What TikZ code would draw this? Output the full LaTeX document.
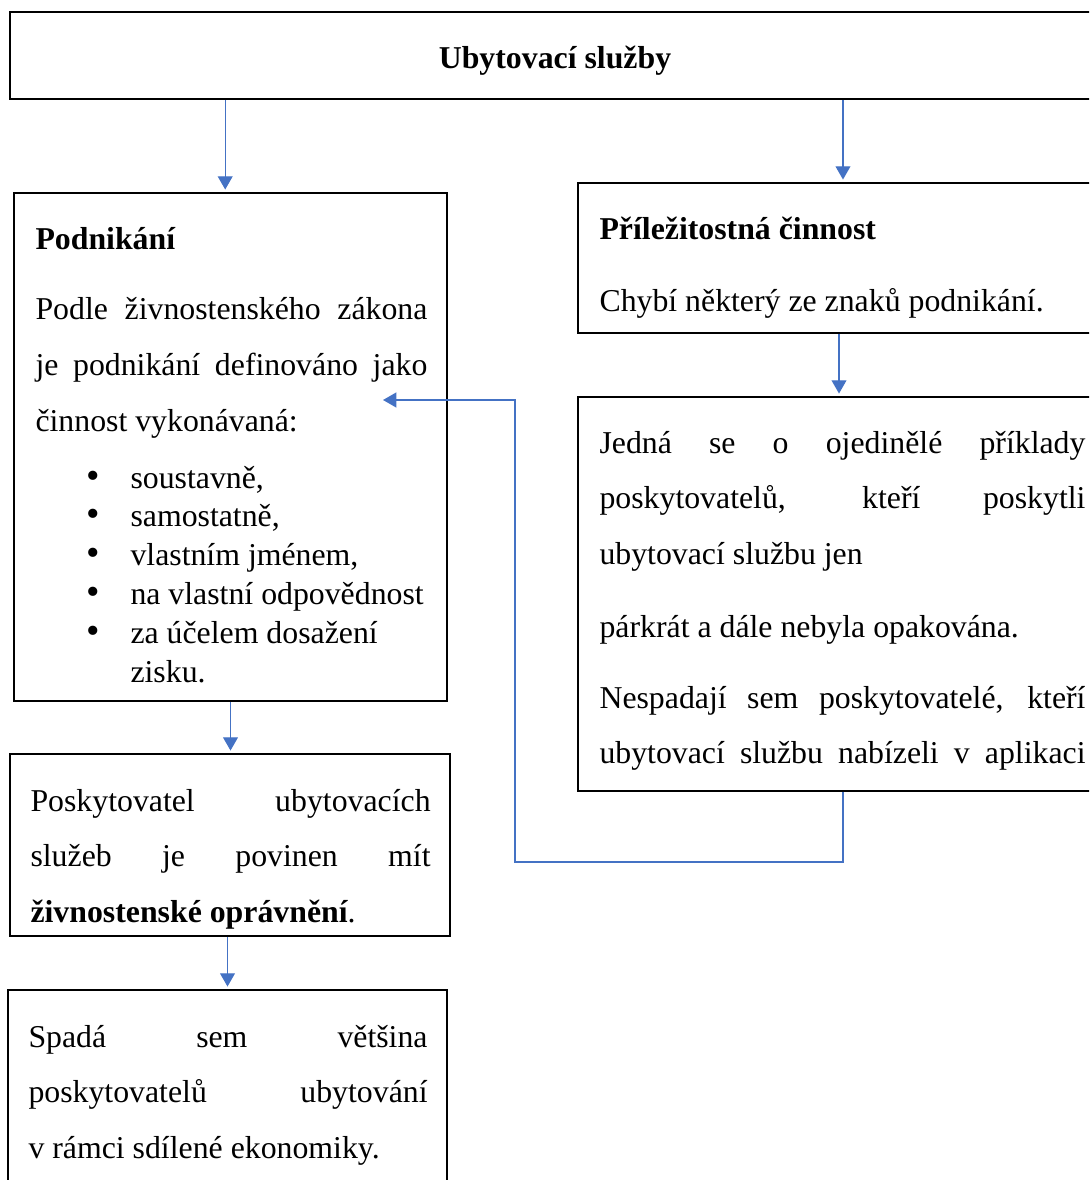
\documentclass[tikz,border=0pt]{standalone}
\usepackage{fontspec}
\setmainfont{Liberation Serif}
\usetikzlibrary{arrows.meta,positioning,fit}
\definecolor{linkblue}{HTML}{4472C4}
\newcommand{\fullline}[1]{{\spaceskip=0pt\xspaceskip=0pt\makebox[\hsize][s]{#1}}}
\newcommand{\bitem}{\leavevmode\llap{{\fontsize{14.5}{14.65}\selectfont\textbullet}\hspace{11.5pt}}}

\begin{document}
\begin{tikzpicture}[
  x=0.3774pt, y=-0.3774pt,
  box/.style={draw, line width=0.6pt, inner sep=0pt},
  txt/.style={anchor=base west, inner sep=0pt, align=left,
              font=\fontsize{12}{21}\selectfont,
              execute at begin node={\spaceskip=0pt\xspaceskip=0pt}},
  head/.style={anchor=base west, inner sep=0pt,
               font=\fontsize{12}{21}\selectfont\bfseries},
  list/.style={anchor=base west, inner sep=0pt, align=left,
               font=\fontsize{12}{14.65}\selectfont,
               execute at begin node={\spaceskip=0pt\xspaceskip=0pt}},
  conn/.style={draw=linkblue, line width=0.5pt,
               -{Triangle[length=5pt, width=5.6pt]}, shorten >=1pt}
]
  \useasboundingbox (0,0) rectangle (1089,1180);
  \clip (0,0) rectangle (1089,1180);

  % boxes
  \node[box, fit={(10,12) (1100,99)}]    (top)     {};
  \node[box, fit={(14,193) (447,701)}]   (pod)     {};
  \node[box, fit={(10,754) (450,936)}]   (povinen) {};
  \node[box, fit={(8,990) (447,1200)}]   (spada)   {};
  \node[box, fit={(578,183) (1100,333)}] (pril)    {};
  \node[box, fit={(578,397) (1100,791)}] (jedna)   {};

  % texts
  \node[head, anchor=base] (title) at (555,69) {Ubytovací služby};

  \node[head] (podhead) at (35,250) {Podnikání};
  \node[txt, text width=147.9pt] (podtext) at (35,320)
    {\fullline{Podle živnostenského zákona}\\
     \fullline{je podnikání definováno jako}\\
     činnost vykonávaná:};
  \node[list, text width=120pt] (podlist) at (130,488)
    {\bitem soustavně,\\
     \bitem samostatně,\\
     \bitem vlastním jménem,\\
     \bitem na vlastní odpovědnost\\
     \bitem za účelem dosažení\\
     zisku.};

  \node[txt, text width=151pt] (povtext) at (30,811)
    {\fullline{Poskytovatel ubytovacích}\\
     \fullline{služeb je povinen mít}\\
     \textbf{živnostenské oprávnění}.};

  \node[txt, text width=150.6pt] (spadatext) at (28,1047)
    {\fullline{Spadá sem většina}\\
     \fullline{poskytovatelů ubytování}\\
     v rámci sdílené ekonomiky.};

  \node[head] (prilhead) at (599,240) {Příležitostná činnost};
  \node[txt] (priltext) at (599,312) {Chybí některý ze znaků podnikání.};

  \node[txt, text width=183.4pt] (jednatext) at (599,453)
    {\fullline{Jedná se o ojedinělé příklady}\\
     \fullline{poskytovatelů, kteří poskytli}\\
     ubytovací službu jen};
  \node[txt] (parkrat) at (599,637) {párkrát a dále nebyla opakována.};
  \node[txt, text width=183.4pt] (nespadaji) at (599,708)
    {\fullline{Nespadají sem poskytovatelé, kteří}\\
     \fullline{ubytovací službu nabízeli v aplikaci}};

  % connectors
  \draw[conn] ([xshift=-2pt]top.south -| pod.north) -- ([xshift=-2pt]pod.north);
  \draw[conn] ([xshift=1.5pt]top.south -| pril.north) -- ([xshift=1.5pt]pril.north);
  \draw[conn] (pod.south) -- (pod.south |- povinen.north);
  \draw[conn] (povinen.south -| spada.north) -- (spada.north);
  \draw[conn] (pril.south) -- (jedna.north);

  \coordinate (fb)   at (515,862);
  \coordinate (jako) at (383,400);
  \draw[conn, shorten >=0pt] ([xshift=1.5pt]jedna.south) |- (fb) |- (jako);
\end{tikzpicture}
\end{document}
